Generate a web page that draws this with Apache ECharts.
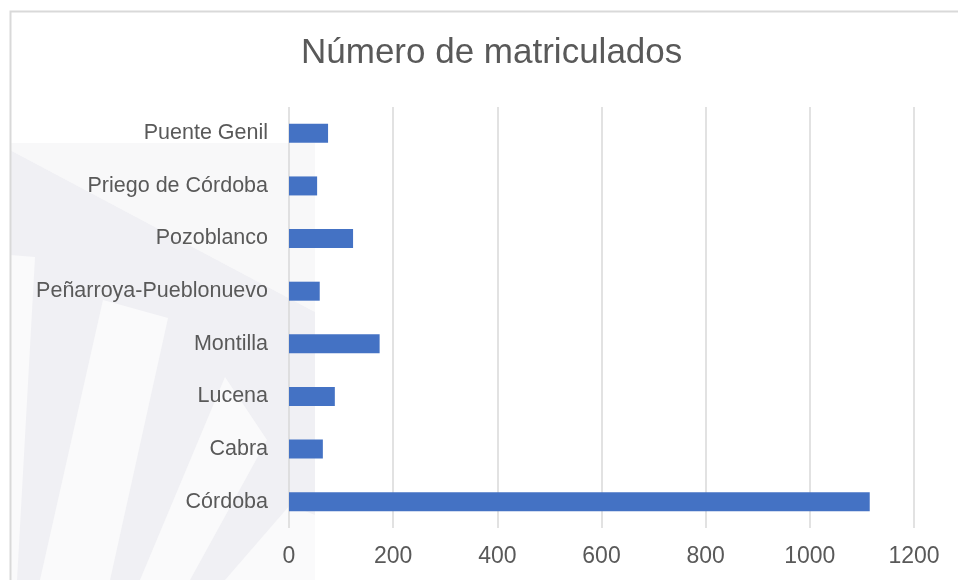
<!DOCTYPE html>
<html>
<head>
<meta charset="utf-8">
<script src="https://cdn.jsdelivr.net/npm/echarts@6/dist/echarts.min.js"></script>
<style>
  html, body { margin: 0; padding: 0; background: #fff; }
  #chart { width: 958px; height: 580px; }
</style>
</head>
<body>
<div id="chart"></div>
<script>
// municipios (de abajo hacia arriba) y matriculados
const municipios = ['Córdoba', 'Cabra', 'Lucena', 'Montilla', 'Peñarroya-Pueblonuevo', 'Pozoblanco', 'Priego de Córdoba', 'Puente Genil'];
const matriculados = [1115, 65, 88, 174, 59, 123, 54, 75];
const ticksX = [0, 200, 400, 600, 800, 1000, 1200];

const gris = '#595959';
const font = '"Liberation Sans", Arial, sans-serif';

let myChart = echarts.init(document.getElementById('chart'));

// marca de agua de fondo (decorativa)
const fondo = [
  { pts: [[10, 143], [315, 143], [315, 312], [10, 150]], color: '#f8f8f9' },
  { pts: [[10, 150], [315, 312], [315, 580], [10, 580]], color: '#f0f0f4' },
  { pts: [[10, 255], [35, 257], [17, 580], [10, 580]], color: '#fafafb' },
  { pts: [[103, 300], [168, 318], [110, 580], [40, 580]], color: '#fafafb' },
  { pts: [[225, 377], [267, 440], [190, 580], [140, 580]], color: '#fafafb' },
  { pts: [[290, 505], [315, 515], [315, 580], [225, 580]], color: '#fafafb' }
];

let option = {
  backgroundColor: '#fff',
  animation: false,
  title: {
    text: 'Número de matriculados',
    left: 296,
    top: 31,
    textStyle: { fontFamily: font, fontSize: 35, fontWeight: 'normal', color: gris }
  },
  graphic: fondo.map(f => ({
    type: 'polygon', silent: true, z: -10,
    shape: { points: f.pts },
    style: { fill: f.color }
  })).concat([{
    type: 'polyline', silent: true, z: -5,
    shape: { points: [[10.5, 580], [10.5, 11.5], [958, 11.5]] },
    style: { stroke: '#d9d9d9', lineWidth: 2, fill: null }
  }]),
  grid: { left: 289, right: 44, top: 107, bottom: 52 },
  xAxis: {
    type: 'value',
    min: ticksX[0],
    max: ticksX[ticksX.length - 1],
    interval: 200,
    axisLine: { show: false },
    axisTick: { show: false },
    splitLine: { show: true, lineStyle: { color: '#d9d9d9', width: 1.5 } },
    axisLabel: {
      margin: 17, fontFamily: font, fontSize: 23, color: gris,
      formatter: v => String(v)
    }
  },
  yAxis: {
    type: 'category',
    data: municipios,
    axisLine: { show: false },
    axisTick: { show: false },
    axisLabel: { margin: 21, fontFamily: font, fontSize: 21.5, color: gris }
  },
  series: [
    {
      name: 'Número de matriculados',
      type: 'bar',
      data: matriculados,
      barWidth: 19,
      itemStyle: { color: '#4472c4' }
    }
  ]
};

myChart.setOption(option);
</script>
</body>
</html>
